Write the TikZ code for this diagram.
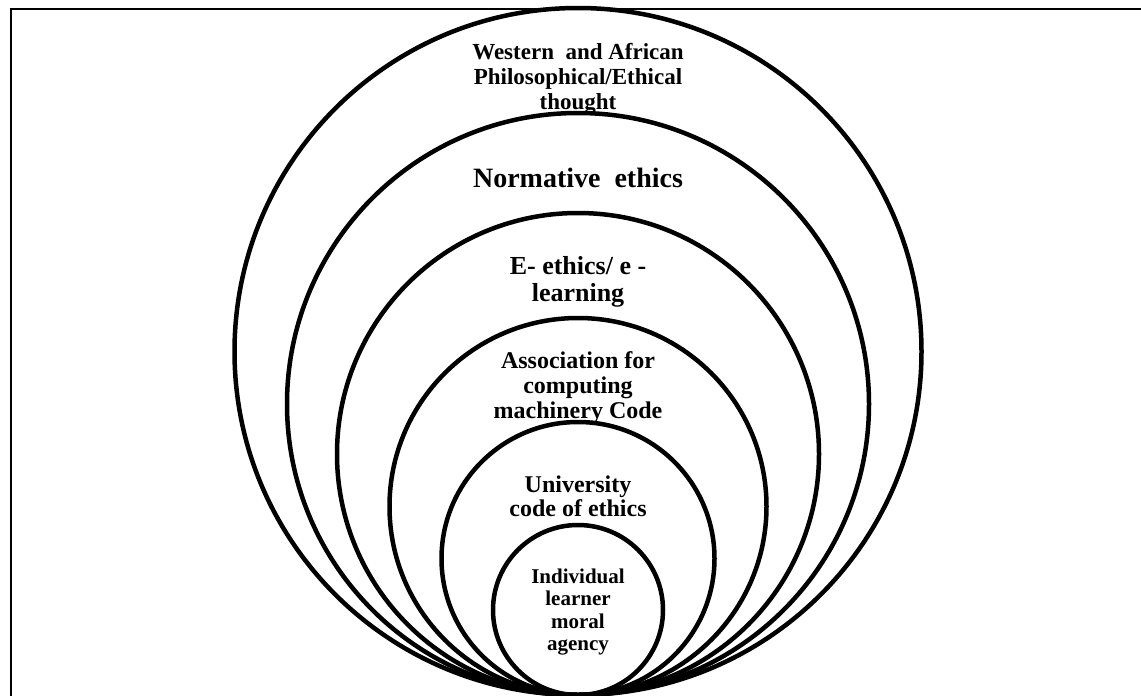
\documentclass[tikz,border=0pt]{standalone}
\usepackage{fontspec}
\setmainfont{Liberation Serif}
\usetikzlibrary{positioning}

\begin{document}
\begin{tikzpicture}[
    x=1pt, y=-1pt,
    ring/.style={circle, draw, line width=4.5pt, inner sep=0pt, minimum size=#1},
    ringtext/.style 2 args={align=center, inner sep=0pt, font=\bfseries\fontsize{#1}{#2}\selectfont}
]

\useasboundingbox (0,0) rectangle (1141,696);
\draw[line width=1.5pt] (1141,9) -| (11,696);

% nested rings, all touching at the bottom
\node (philo) [ring=687pt] at (578,351.5) {};
\node (normative) [ring=582pt] at (578,404) {};
\node (eethics) [ring=482pt] at (578,454) {};
\node (acm) [ring=377pt] at (578,506.5) {};
\node (university) [ring=273pt] at (578,558.5) {};
\node (learner) [ring=170pt] at (578,610) {};

\node (philotext) [ringtext={23}{25}] at (578,79) {Western\ \ and African\\Philosophical/Ethical\\thought};
\node (normtext) [ringtext={28}{32}] at (578,178) {Normative\ \ ethics};
\node (eethicstext) [ringtext={26}{27}] at (578,282) {E- ethics/ e -\\learning};
\node (acmtext) [ringtext={24}{25}] at (578,388) {Association for\\computing\\machinery Code};
\node (unitext) [ringtext={24}{24}] at (578,496) {University\\code of ethics};
\node (learnertext) [ringtext={21}{22.5}] at (578,612) {Individual\\learner\\moral\\agency};

\end{tikzpicture}
\end{document}
